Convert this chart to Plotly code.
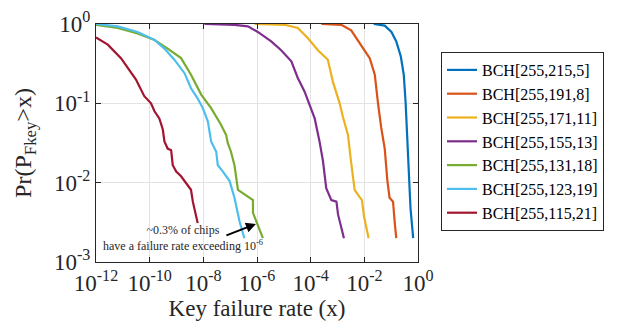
import numpy as np
import plotly.graph_objects as go

# Series names and colours
names = ["BCH[255,215,5]", "BCH[255,191,8]", "BCH[255,171,11]", "BCH[255,155,13]",
         "BCH[255,131,18]", "BCH[255,123,19]", "BCH[255,115,21]"]
colors = ["#0072BD", "#D95319", "#EDB120", "#7E2F8E", "#77AC30", "#4DBEEE", "#A2142F"]

# Tick labels
x_tickvals = [1e-12, 1e-10, 1e-8, 1e-6, 1e-4, 1e-2, 1e0]
x_ticktext = ["10<sup>-12</sup>", "10<sup>-10</sup>", "10<sup>-8</sup>", "10<sup>-6</sup>",
              "10<sup>-4</sup>", "10<sup>-2</sup>", "10<sup>0</sup>"]
y_tickvals = [1e-3, 1e-2, 1e-1, 1e0]
y_ticktext = ["10<sup>-3</sup>", "10<sup>-2</sup>", "10<sup>-1</sup>", "10<sup>0</sup>"]

# log10(x) and log10(Pr)
bch215_lx = [-1.65, -1.24, -0.99, -0.81, -0.64, -0.53, -0.46, -0.40, -0.35, -0.28, -0.18]
bch215_ly = [0.0, -0.02, -0.10, -0.22, -0.41, -0.64, -1.00, -1.48, -1.98, -2.32, -2.70]

bch191_lx = [-3.60, -2.86, -2.49, -2.24, -2.00, -1.80, -1.61, -1.49, -1.37, -1.24, -1.14, -1.06, -0.93, -0.87, -0.81]
bch191_ly = [0.0, -0.01, -0.08, -0.20, -0.33, -0.43, -0.64, -1.00, -1.31, -1.57, -1.98, -2.19, -2.24, -2.49, -2.70]

bch171_lx = [-6.09, -4.97, -4.48, -4.10, -3.73, -3.36, -3.17, -2.92, -2.80, -2.61, -2.49, -2.36, -2.24, -2.09, -2.01, -1.84]
bch171_ly = [0.0, -0.01, -0.05, -0.18, -0.33, -0.45, -0.73, -1.00, -1.17, -1.40, -1.75, -2.09, -2.15, -2.22, -2.43, -2.70]

bch155_lx = [-7.96, -6.84, -6.34, -5.97, -5.47, -5.10, -4.72, -4.48, -4.23, -4.04, -3.85, -3.67, -3.54, -3.42, -3.23, -3.04, -2.98, -2.76]
bch155_ly = [0.0, -0.01, -0.03, -0.10, -0.22, -0.33, -0.47, -0.68, -0.85, -1.02, -1.19, -1.48, -1.73, -2.07, -2.22, -2.24, -2.40, -2.70]

bch131_lx = [-12.0, -11.19, -10.45, -9.82, -9.33, -8.83, -8.46, -8.08, -7.71, -7.34, -7.15, -7.09, -6.97, -6.84, -6.71, -6.15, -6.15, -6.03, -5.78]
bch131_ly = [-0.01, -0.05, -0.12, -0.20, -0.31, -0.43, -0.64, -0.89, -1.06, -1.27, -1.40, -1.50, -1.61, -1.78, -2.09, -2.22, -2.38, -2.49, -2.70]

bch123_lx = [-12.0, -11.19, -10.45, -9.82, -9.45, -9.08, -8.70, -8.46, -8.21, -8.02, -7.83, -7.71, -7.52, -7.46, -7.27, -7.02, -6.84, -6.65, -6.47]
bch123_ly = [0.0, -0.03, -0.10, -0.20, -0.31, -0.45, -0.62, -0.81, -0.94, -1.06, -1.23, -1.48, -1.61, -1.78, -1.86, -1.98, -2.19, -2.49, -2.70]

bch115_lx = [-12.0, -11.56, -11.07, -10.76, -10.51, -10.20, -9.95, -9.82, -9.64, -9.51, -9.45, -9.33, -9.20, -9.14, -9.01, -8.83, -8.64, -8.46, -8.39, -8.27, -8.21]
bch115_ly = [-0.17, -0.26, -0.43, -0.58, -0.70, -0.91, -1.00, -1.10, -1.19, -1.33, -1.48, -1.57, -1.59, -1.78, -1.86, -1.92, -2.01, -2.09, -2.24, -2.40, -2.51]

series_lx = [bch215_lx, bch191_lx, bch171_lx, bch155_lx, bch131_lx, bch123_lx, bch115_lx]
series_ly = [bch215_ly, bch191_ly, bch171_ly, bch155_ly, bch131_ly, bch123_ly, bch115_ly]

FONT = "Liberation Serif"
INK = "#262626"

fig = go.Figure()
for name, col, lx, ly in zip(names, colors, series_lx, series_ly):
    fig.add_trace(go.Scatter(
        x=np.power(10.0, lx), y=np.power(10.0, ly), mode="lines", name=name,
        line=dict(color=col, width=2.2)))

axis_common = dict(
    type="log", showline=True, linecolor=INK, linewidth=1, mirror="ticks",
    ticks="inside", ticklen=5, tickcolor=INK, automargin=False, tickangle=0,
    showgrid=True, gridcolor="#e3e3e3", gridwidth=1, zeroline=False,
    tickfont=dict(family=FONT, size=23, color=INK),
)

fig.update_xaxes(range=[-12, 0], tickvals=x_tickvals, ticktext=x_ticktext,
                 title=dict(text="Key failure rate (x)",
                            font=dict(family=FONT, size=23, color=INK), standoff=0),
                 **axis_common)
fig.update_yaxes(range=[-3, 0], tickvals=y_tickvals, ticktext=y_ticktext, ticklabelstandoff=0,
                 title=dict(text="Pr(P<sub>Fkey</sub>&gt;x)",
                            font=dict(family=FONT, size=24, color=INK), standoff=15),
                 **axis_common)

fig.add_annotation(x=-6.04, y=-2.52, xref="x", yref="y", ax=-31, ay=12,
                   text="", showarrow=True, arrowhead=2, arrowsize=1, arrowwidth=2,
                   arrowcolor="black")
fig.add_annotation(x=-8.76, y=-2.70, xref="x", yref="y",
                   text="~0.3% of chips<br>have a failure rate exceeding 10<sup>-6</sup>",
                   showarrow=False, align="center",
                   font=dict(family=FONT, size=12, color=INK))

fig.update_layout(
    width=618, height=329,
    margin=dict(l=88, r=208, t=16, b=75),
    plot_bgcolor="white", paper_bgcolor="white",
    font=dict(family=FONT, color=INK),
    legend=dict(x=433 / 618, y=1 - 44 / 329, xref="container", yref="container",
                xanchor="left", yanchor="top", maxheight=280,
                bordercolor=INK, borderwidth=1, bgcolor="white",
                font=dict(family=FONT, size=16, color="black"),
                tracegroupgap=0, itemwidth=30),
    showlegend=True,
)

fig.write_html("out.html")
